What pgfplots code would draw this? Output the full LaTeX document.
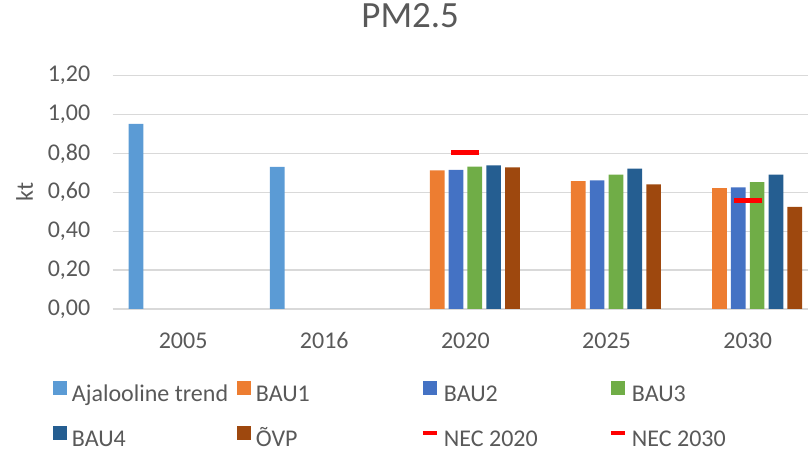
\documentclass[border=0pt]{standalone}
\usepackage{fontspec}
\setmainfont{Carlito}
\usepackage{pgfplots}
\pgfplotsset{compat=1.18}
\definecolor{txt}{RGB}{89,89,89}
\definecolor{gridc}{RGB}{217,217,217}
\definecolor{cA}{RGB}{91,155,213}
\definecolor{cB1}{RGB}{237,125,49}
\definecolor{cB2}{RGB}{68,114,196}
\definecolor{cB3}{RGB}{112,173,71}
\definecolor{cB4}{RGB}{37,94,145}
\definecolor{cO}{RGB}{158,72,14}
\pgfplotsset{
  sq/.style={legend image code/.code={\fill[#1] (0pt,0pt) rectangle (14pt,14pt);}},
  bars/.style={ybar, bar width=0.104, draw=none, fill=#1, sq=#1},
}
\begin{document}
\begin{tikzpicture}[font=\fontsize{24}{28}\selectfont]
\path[use as bounding box] (0,0) rectangle (808pt,452pt);
\begin{axis}[
  at={(112.5pt,143pt)}, anchor=south west,
  scale only axis, width=695.5pt, height=233.3pt,
  xmin=-0.5, xmax=4.427, ymin=0, ymax=1.2,
  xtick={0,1,2,3,4}, xticklabels={2005,2016,2020,2025,2030},
  ytick={0,0.2,0.4,0.6,0.8,1.0,1.2},
  yticklabel style={/pgf/number format/fixed, /pgf/number format/fixed zerofill, /pgf/number format/precision=2, /pgf/number format/use comma, /pgf/number format/assume math mode=true},
  major tick length=0pt,
  axis line style={draw=none},
  ymajorgrids, grid style={color=gridc, line width=1.3pt},
  tick label style={text=txt, font=\fontsize{24}{28}\selectfont},
  yticklabel style={anchor=east, inner sep=0pt, xshift=-22pt},
  xticklabel style={anchor=north, inner sep=0pt, yshift=-23.5pt},
  ylabel={kt}, ylabel style={at={(-0.1265,0.5)}, anchor=center, text=txt, font=\fontsize{24}{28}\selectfont},
  title={PM2.5}, title style={at={(0.428,1.231)}, anchor=center, text=txt, font=\fontsize{37}{42}\selectfont},
  legend columns=4,
  legend cell align=left,
  legend style={at={(-0.0856,-0.307)}, anchor=north west, draw=none, fill=none,
    inner sep=0pt, outer sep=0pt, row sep=21pt,
    nodes={inner sep=0pt, text height=17pt, text depth=4pt, text=txt, font=\fontsize{24}{28}\selectfont},
    /tikz/every odd column/.append style={column sep=5pt},
    /tikz/every even column/.append style={column sep=5pt}},
]
\addplot[bars=cA, bar shift=-0.3333] coordinates {(0,0.952) (1,0.731)};
\addlegendentry{\makebox[160pt][l]{Ajalooline trend}}
\addplot[bars=cB1, bar shift=-0.2] coordinates {(2,0.713) (3,0.658) (4,0.622)};
\addlegendentry{\makebox[160pt][l]{BAU1}}
\addplot[bars=cB2, bar shift=-0.0667] coordinates {(2,0.715) (3,0.662) (4,0.626)};
\addlegendentry{\makebox[160pt][l]{BAU2}}
\addplot[bars=cB3, bar shift=0.0667] coordinates {(2,0.732) (3,0.691) (4,0.652)};
\addlegendentry{\makebox[160pt][l]{BAU3}}
\addplot[bars=cB4, bar shift=0.2] coordinates {(2,0.739) (3,0.722) (4,0.691)};
\addlegendentry{\makebox[160pt][l]{BAU4}}
\addplot[bars=cO, bar shift=0.3333] coordinates {(2,0.729) (3,0.641) (4,0.525)};
\addlegendentry{\makebox[160pt][l]{ÕVP}}
\addplot[only marks, mark=-, mark size=14pt, mark options={line width=5pt, draw=red},
  legend image code/.code={\draw[red, line width=4pt] (0pt,7pt) -- (14pt,7pt);}] coordinates {(2,0.806)};
\addlegendentry{\makebox[160pt][l]{NEC 2020}}
\addplot[only marks, mark=-, mark size=14pt, mark options={line width=5pt, draw=red},
  legend image code/.code={\draw[red, line width=4pt] (0pt,7pt) -- (14pt,7pt);}] coordinates {(4,0.559)};
\addlegendentry{\makebox[160pt][l]{NEC 2030}}
\end{axis}
\end{tikzpicture}
\end{document}
